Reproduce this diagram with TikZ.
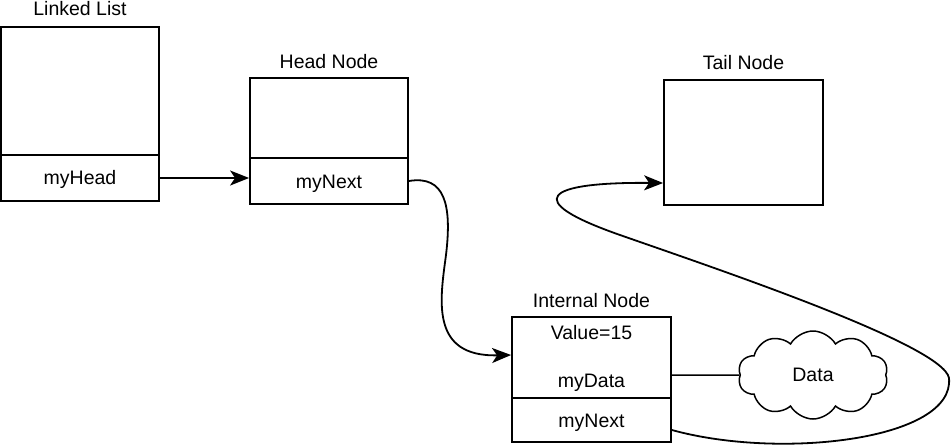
\documentclass[tikz,border=0pt]{standalone}
\usepackage{fontspec}
\setmainfont{Liberation Sans}
\usetikzlibrary{arrows.meta,shapes.symbols}
\begin{document}
\begin{tikzpicture}[x=1pt,y=-1pt,
  box/.style={draw, line width=1.8pt, inner sep=0pt, minimum width=158pt},
  lbl/.style={anchor=base, inner sep=0pt, font=\fontsize{19.5}{23}\selectfont},
  link/.style={line width=1.8pt, -{Stealth[length=19pt,width=15pt,inset=5pt]}},
  plain/.style={line width=1.5pt}]
\useasboundingbox (0,0) rectangle (951,445);
% Linked List
\node[box, minimum height=128pt] (ll) at (80,91) {};
\node[box, minimum height=46pt] (llh) at (80,178) {};
\node[lbl] (llt) at (80,15) {Linked List};
\node[lbl] (llht) at (80,184) {myHead};
% Head Node
\node[box, minimum height=80pt] (hn) at (329,118) {};
\node[box, minimum height=46pt] (hnn) at (329,181) {};
\node[lbl] (hnt) at (329,68) {Head Node};
\node[lbl] (hnnt) at (329,188) {myNext};
% Tail Node
\node[box, minimum width=159pt, minimum height=125pt] (tn) at (743.5,142.5) {};
\node[lbl] (tnt) at (743.5,69) {Tail Node};
% Internal Node
\node[box, minimum width=159pt, minimum height=81pt] (in) at (591.5,357.5) {};
\node[box, minimum width=159pt, minimum height=44pt] (inx) at (591.5,420) {};
\node[lbl] (intt) at (591.5,307) {Internal Node};
\node[lbl] (inv) at (591.5,339) {Value=15};
\node[lbl] (ind) at (591.5,387) {myData};
\node[lbl] (inxt) at (591.5,427) {myNext};
% Data cloud
\node[cloud, draw, line width=1.5pt, cloud puffs=10, cloud puff arc=120, aspect=1.7,
  minimum width=150pt, minimum height=88pt, inner sep=0pt] (data) at (813,375) {};
\node[lbl] (datat) at (813,381) {Data};
% connectors
\draw[link] (llh.east) -- (llh.east -| hnn.west);
\draw[link] (hnn.east) .. controls (445,175) and (452,205) .. (446,255)
  .. controls (440,300) and (430,357) .. (in.west |- 0,355);
\draw[plain] (in.east |- 0,375) -- (data.west);
\draw[link] (inx.east |- 0,430) .. controls (780,460) and (955,440) .. (949,378)
  .. controls (943,345) and (720,270) .. (620,235)
  .. controls (520,200) and (545,182) .. (tn.west |- 0,183);
\end{tikzpicture}
\end{document}
